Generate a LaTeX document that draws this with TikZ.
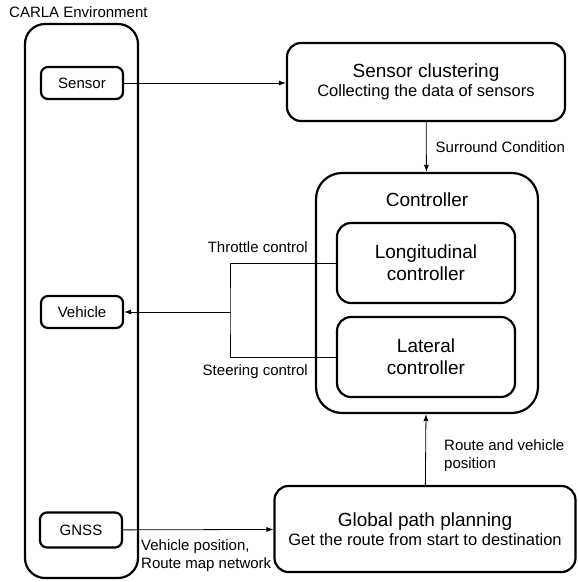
\documentclass[tikz,border=0pt]{standalone}
\usepackage{fontspec}
\setmainfont{Liberation Sans}
\usepackage{tikz}
\usetikzlibrary{arrows.meta}

\newcommand{\titlesize}{\fontsize{19}{22}\selectfont}
\newcommand{\subsize}{\fontsize{16.5}{20}\selectfont}
\newcommand{\lblsize}{\fontsize{15}{18}\selectfont}

\begin{document}
\begin{tikzpicture}[
						x=1pt, y=-1pt,
						line cap=round,
						line join=round,
						box/.style={draw, line width=2.2pt, rounded corners=7pt, inner sep=0pt, align=center},
						bigbox/.style={box, rounded corners=14pt},
						arr/.style={line width=0.8pt, -{Latex[length=7pt,width=5pt]}},
						lbl/.style={font=\lblsize, inner sep=1pt}
						]
						
						\useasboundingbox (0,0) rectangle (578,582);
						
						% CARLA side
						\node[lbl, anchor=west] (carla) at (8,12) {CARLA Environment};
						\node[box, rounded corners=20pt, minimum width=113, minimum height=554] (env) at (81.5,301) {};
						\node[box, font=\lblsize, minimum width=82, minimum height=32] (sensor) at (82,83) {Sensor};
						\node[box, font=\lblsize, minimum width=82, minimum height=32] (vehicle) at (82,312) {Vehicle};
						\node[box, font=\lblsize, minimum width=82, minimum height=35] (gnss) at (81,530) {GNSS};
						
						% Processing blocks
						\node[bigbox, minimum width=278, minimum height=78] (cluster) at (426,82)
							{\titlesize Sensor clustering\\[2pt]\subsize Collecting the data of sensors};
						\node[bigbox, rounded corners=26pt, minimum width=222, minimum height=240] (ctrl) at (427,293) {};
						\node[font=\titlesize] (ctrltitle) at (427,200) {Controller};
						\node[bigbox, font=\titlesize, minimum width=178, minimum height=80] (lon) at (426,263) {Longitudinal\\controller};
						\node[bigbox, font=\titlesize, minimum width=178, minimum height=80] (lat) at (426,357) {Lateral\\controller};
						\node[bigbox, minimum width=301, minimum height=86] (global) at (425,529)
							{\titlesize Global path planning\\[2pt]\subsize Get the route from start to destination};
						
						% Connections
						\draw[arr] (sensor.east) -- (sensor.east -| cluster.west);
						\draw[arr] (cluster) -- (ctrl)
							node[lbl, midway, anchor=west, xshift=8pt] (surround) {Surround Condition};
						
						\coordinate (split) at (230,312);
						\draw[line width=0.8pt] (lon.west) -| (split) |- (lat.west);
						\draw[arr] (split) -- (split -| vehicle.east);
						\node[lbl, anchor=east] (throttle) at (309,247) {Throttle control};
						\node[lbl, anchor=east] (steering) at (309,372) {Steering control};
						
						\draw[arr] (gnss) -- (global);
						\node[lbl, anchor=north west, align=left] (gnsslbl) at (140,538) {Vehicle position,\\Route map network};
						
						\draw[arr] (global) -- (ctrl);
						\node[lbl, anchor=west, align=left] (routelbl) at (443,456) {Route and vehicle\\position};
						
					\end{tikzpicture}
\end{document}
